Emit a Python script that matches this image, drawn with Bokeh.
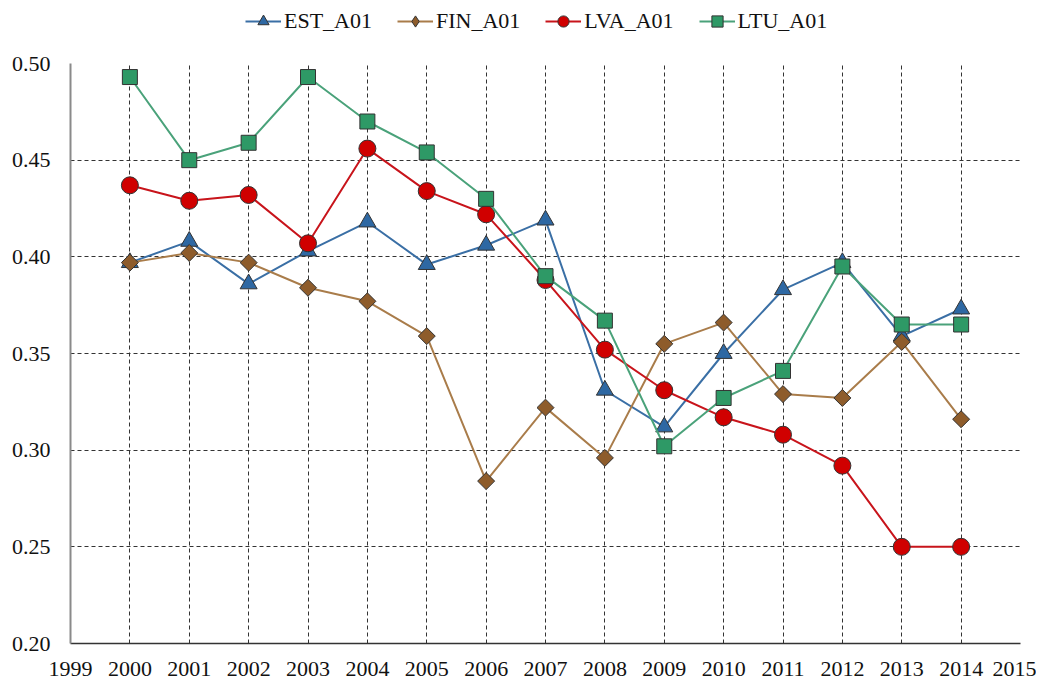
import math
from bokeh.plotting import figure
from bokeh.layouts import column
from bokeh.models import Legend, LegendItem, FixedTicker, Range1d, CustomJSTickFormatter
from bokeh.embed import file_html
from bokeh.resources import INLINE

years = list(range(2000, 2015))
est = [0.397, 0.408, 0.386, 0.403, 0.418, 0.396, 0.406, 0.419, 0.331, 0.312, 0.350, 0.383, 0.397, 0.359, 0.373]
fin = [0.397, 0.402, 0.397, 0.384, 0.377, 0.359, 0.284, 0.322, 0.296, 0.355, 0.366, 0.329, 0.327, 0.356, 0.316]
lva = [0.437, 0.429, 0.432, 0.407, 0.456, 0.434, 0.422, 0.388, 0.352, 0.331, 0.317, 0.308, 0.292, 0.250, 0.250]
ltu = [0.493, 0.450, 0.459, 0.493, 0.470, 0.454, 0.430, 0.390, 0.367, 0.302, 0.327, 0.341, 0.395, 0.365, 0.365]
names = ["EST_A01", "FIN_A01", "LVA_A01", "LTU_A01"]
x_ticks = list(range(1999, 2016))
y_ticks = [0.20, 0.25, 0.30, 0.35, 0.40, 0.45, 0.50]

FONT = "Liberation Serif"

p = figure(frame_width=950, frame_height=580, output_backend="svg", toolbar_location=None,
           x_range=Range1d(1999, 2015), y_range=Range1d(0.20, 0.50),
           min_border_left=70, min_border_right=16, min_border_top=21, min_border_bottom=36)
p.outline_line_color = None
p.background_fill_color = "white"

p.xaxis.ticker = FixedTicker(ticks=x_ticks)
p.yaxis.ticker = FixedTicker(ticks=y_ticks)
p.yaxis.formatter = CustomJSTickFormatter(code="return tick.toFixed(2);")
for ax in (p.xaxis[0], p.yaxis[0]):
    ax.major_label_text_font = FONT
    ax.major_label_text_font_size = "22px"
    ax.major_label_text_color = "#111111"
    ax.major_tick_line_color = None
    ax.minor_tick_line_color = None
p.xaxis.major_label_standoff = 12
p.yaxis.major_label_standoff = 14
p.yaxis.axis_line_color = "#8a8a8a"
p.yaxis.axis_line_width = 2
p.xaxis.axis_line_color = "#333333"
p.xaxis.axis_line_width = 1.5

for g in (p.xgrid[0], p.ygrid[0]):
    g.grid_line_color = "#333333"
    g.grid_line_dash = "4 3"
    g.grid_line_width = 1

# (values, line colour, marker colour, marker, size, angle, legend marker)
specs = [
    (est, "#3A6FA5", "#2E68A3", "triangle", 17, 0.0, "triangle"),
    (fin, "#A97C4A", "#8E5C2B", "square", 12, math.pi / 4, "diamond"),
    (lva, "#C8141B", "#D00000", "circle", 17, 0.0, "circle"),
    (ltu, "#4AA27A", "#2E9966", "square", 15, 0.0, "square"),
]

# legend strip above the plot (its ranges keep the series out of view; only the legend shows)
lg = figure(frame_width=950, height=42, output_backend="svg", toolbar_location=None,
            x_axis_type=None, y_axis_type=None,
            min_border_left=70, min_border_right=16, min_border_top=0, min_border_bottom=0,
            x_range=Range1d(0, 1), y_range=Range1d(0, 1))
lg.outline_line_color = None
lg.xgrid.visible = False
lg.ygrid.visible = False

items = []
for (vals, lc, mc, mk, sz, ang, lmk), name in zip(specs, names):
    p.line(years, vals, line_color=lc, line_width=2)
    p.scatter(years, vals, marker=mk, size=sz, angle=ang, fill_color=mc,
              line_color="#333333", line_width=1)
    d1 = lg.line(years, vals, line_color=lc, line_width=2)
    d2 = lg.scatter(years, vals, marker=lmk, fill_color=mc,
                    line_color="#333333", line_width=1)
    items.append(LegendItem(label=name, renderers=[d1, d2]))

legend = Legend(items=items, orientation="horizontal", location=(175, 7),
                label_text_font=FONT, label_text_font_size="22px", label_text_color="#111111",
                glyph_width=36, glyph_height=28, spacing=25, label_standoff=3,
                border_line_color=None, background_fill_alpha=0, padding=0, margin=0)
lg.add_layout(legend)

open("out.html", "w").write(file_html(column(lg, p, spacing=0), INLINE))
